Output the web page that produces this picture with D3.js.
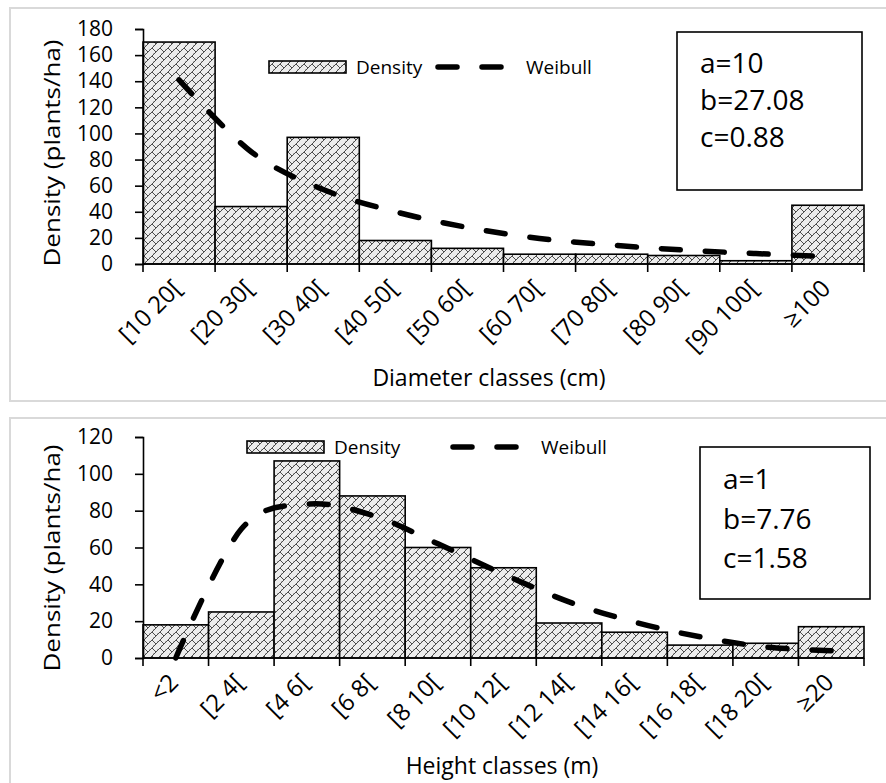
<!DOCTYPE html>
<html>
<head>
<meta charset="utf-8">
<script src="https://cdn.jsdelivr.net/npm/d3@7"></script>
<style>
  body { margin: 0; background: #fff; }
  text { font-family: "Open Sans", "Noto Sans", sans-serif; fill: #000; }
</style>
</head>
<body>
<script>
// Diameter distribution (top chart)
var diamClasses = ["[10 20[", "[20 30[", "[30 40[", "[40 50[", "[50 60[", "[60 70[", "[70 80[", "[80 90[", "[90 100[", "\u2265100"];
var diamDensity = [170, 44, 97, 18, 12, 7.5, 7.5, 6.5, 2.5, 45];
var diamWeibull = [141, 86, 57, 40, 28, 19.5, 14.5, 10.7, 8, 5.7];
var diamTicks = [0, 20, 40, 60, 80, 100, 120, 140, 160, 180];
var diamParams = ["a=10", "b=27.08", "c=0.88"];

// Height distribution (bottom chart)
var heightClasses = ["<2", "[2 4[", "[4 6[", "[6 8[", "[8 10[", "[10 12[", "[12 14[", "[14 16[", "[16 18[", "[18 20[", "\u226520"];
var heightDensity = [18, 25, 107, 88, 60, 49, 19, 14, 7, 8, 17];
var heightWeibull = [0, 70, 83.5, 77.5, 62, 45.5, 30.5, 19.5, 11.5, 6, 4];
var heightTicks = [0, 20, 40, 60, 80, 100, 120];
var heightParams = ["a=1", "b=7.76", "c=1.58"];

var width = 886, height = 783;

var svg = d3.select("body").append("svg")
  .attr("width", width)
  .attr("height", height);

// hatch used by the bars (diagonal brick look)
var defs = svg.append("defs");
var pat = defs.append("pattern")
  .attr("id", "brick")
  .attr("patternUnits", "userSpaceOnUse")
  .attr("width", 8).attr("height", 8);
pat.append("rect").attr("width", 8).attr("height", 8).attr("fill", "#ececec");
pat.append("rect").attr("x", 1).attr("y", 5).attr("width", 1).attr("height", 1).attr("fill", "#b5b5b5");
pat.append("rect").attr("x", 5).attr("y", 1).attr("width", 1).attr("height", 1).attr("fill", "#b5b5b5");
pat.append("path")
  .attr("d", "M-1,9 L9,-1 M0,0 L4,4")
  .attr("stroke", "#3a3a3a")
  .attr("stroke-width", 0.9)
  .attr("fill", "none");

function drawChart(o) {
  // light gray chart frame
  svg.append("rect")
    .attr("x", o.frame[0]).attr("y", o.frame[1])
    .attr("width", o.frame[2]).attr("height", o.frame[3])
    .attr("fill", "none")
    .attr("stroke", "#d9d9d9")
    .attr("stroke-width", 2);

  var x = d3.scaleBand()
    .domain(o.classes)
    .range([143, 864])
    .padding(0);

  var y = d3.scaleLinear()
    .domain([0, o.ticks[o.ticks.length - 1]])
    .range([o.y0, o.yTop]);

  var g = svg.append("g");

  // bars
  g.selectAll("rect.bar")
    .data(o.density)
    .enter().append("rect")
      .attr("class", "bar")
      .attr("x", function(d, i) { return x(o.classes[i]); })
      .attr("y", function(d) { return y(d); })
      .attr("width", x.bandwidth())
      .attr("height", function(d) { return y(0) - y(d); })
      .attr("fill", "url(#brick)")
      .attr("stroke", "#000")
      .attr("stroke-width", 1.6);

  // y axis
  var yAxis = g.append("g")
    .attr("transform", "translate(143,0)")
    .call(d3.axisLeft(y).tickValues(o.ticks).tickSize(8).tickPadding(22).tickFormat(d3.format("d")));
  yAxis.select(".domain").attr("stroke-width", 1.6);
  yAxis.selectAll(".tick line").attr("stroke-width", 1.6);
  yAxis.selectAll("text").style("font-size", "21px").style("font-family", "Open Sans");

  // x axis, ticks on the class boundaries
  var edges = o.classes.map(function(c) { return x(c); }).concat([864]);
  var xAxis = g.append("g").attr("transform", "translate(0," + o.y0 + ")");
  xAxis.append("line").attr("x1", 143).attr("x2", 864)
    .attr("stroke", "#000").attr("stroke-width", 1.6);
  xAxis.selectAll("line.tk").data(edges).enter().append("line")
    .attr("class", "tk")
    .attr("x1", function(d) { return d; }).attr("x2", function(d) { return d; })
    .attr("y1", 0).attr("y2", 8)
    .attr("stroke", "#000").attr("stroke-width", 1.6);
  xAxis.selectAll("text").data(o.classes).enter().append("text")
    .attr("transform", function(d) {
      return "translate(" + (x(d) + x.bandwidth() / 2 - 2) + ",20) rotate(-45)";
    })
    .attr("text-anchor", "end")
    .attr("dy", "0.35em")
    .style("font-size", "24px")
    .text(function(d) { return d; });

  // weibull curve
  var line = d3.line()
    .x(function(d, i) { return x(o.classes[i]) + x.bandwidth() / 2; })
    .y(function(d) { return y(d); })
    .curve(d3.curveCatmullRom.alpha(0));
  g.append("path")
    .datum(o.weibull)
    .attr("d", line)
    .attr("fill", "none")
    .attr("stroke", "#000")
    .attr("stroke-width", 5.5)
    .attr("stroke-linecap", "round")
    .attr("stroke-dasharray", "19,25");

  // axis titles
  g.append("text")
    .attr("transform", "translate(52," + o.yTitleY + ") rotate(-90)")
    .attr("text-anchor", "middle")
    .attr("dy", "0.35em")
    .attr("textLength", 227)
    .attr("lengthAdjust", "spacingAndGlyphs")
    .style("font-size", "22px")
    .text("Density (plants/ha)");
  g.append("text")
    .attr("x", o.xTitle[0]).attr("y", o.xTitle[1])
    .attr("text-anchor", "middle")
    .style("font-size", "23px")
    .text(o.xLabel);

  // legend
  var lg = o.legend;
  g.append("rect")
    .attr("x", lg.rectX).attr("y", lg.y - 6)
    .attr("width", 77).attr("height", 12)
    .attr("fill", "url(#brick)")
    .attr("stroke", "#000").attr("stroke-width", 1.6);
  g.append("text")
    .attr("x", lg.rectX + 87).attr("y", lg.y).attr("dy", "0.35em")
    .style("font-size", "19px")
    .text("Density");
  g.append("line")
    .attr("x1", lg.lineX).attr("x2", lg.lineX + 68)
    .attr("y1", lg.y).attr("y2", lg.y)
    .attr("stroke", "#000").attr("stroke-width", 5.5)
    .attr("stroke-linecap", "round")
    .attr("stroke-dasharray", "19,25");
  g.append("text")
    .attr("x", lg.lineX + 88).attr("y", lg.y).attr("dy", "0.35em")
    .style("font-size", "19px")
    .text("Weibull");

  // parameter box
  var b = o.box;
  g.append("rect")
    .attr("x", b[0]).attr("y", b[1]).attr("width", b[2]).attr("height", b[3])
    .attr("fill", "#fff").attr("stroke", "#000").attr("stroke-width", 1.6);
  g.selectAll("text.param").data(o.params).enter().append("text")
    .attr("class", "param")
    .attr("x", b[0] + 23)
    .attr("y", function(d, i) { return b[4] + i * b[5]; })
    .style("font-size", "28px")
    .text(function(d) { return d; });
}

drawChart({
  classes: diamClasses, density: diamDensity, weibull: diamWeibull,
  ticks: diamTicks, params: diamParams,
  y0: 264, yTop: 29,
  frame: [10, 8, 890, 393],
  yTitleY: 153,
  xLabel: "Diameter classes (cm)", xTitle: [489, 386],
  legend: { rectX: 269, lineX: 438, y: 67 },
  box: [677, 32, 185, 158, 73, 37]
});

drawChart({
  classes: heightClasses, density: heightDensity, weibull: heightWeibull,
  ticks: heightTicks, params: heightParams,
  y0: 658, yTop: 437,
  frame: [10, 418, 890, 380],
  yTitleY: 558,
  xLabel: "Height classes (m)", xTitle: [502, 774],
  legend: { rectX: 247, lineX: 453, y: 447 },
  box: [700, 447, 170, 152, 489, 39.5]
});
</script>
</body>
</html>
